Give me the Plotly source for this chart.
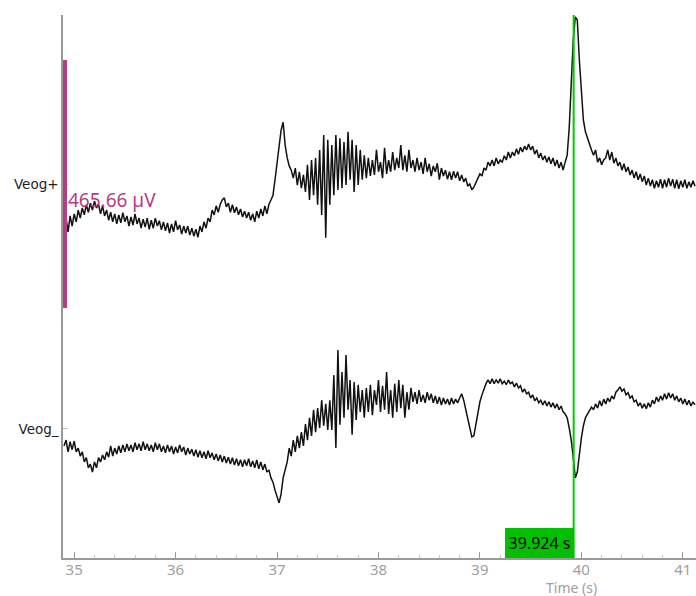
import numpy as np
import plotly.graph_objects as go

# Recording segment: two EOG channels, 50 Hz display sampling
t_start = 34.90          # s
sample_period = 0.02     # s

channel_names = ["Veog+", "Veog_"]

# Veog+ amplitude (µV, relative to channel baseline)
veog_plus = [
    -83, -64, -90, -60, -79, -56, -71, -49, -64, -45,
    -58, -39, -53, -36, -49, -32, -45, -38, -56, -41,
    -60, -49, -68, -53, -71, -56, -75, -58, -73, -54,
    -71, -60, -79, -62, -77, -56, -75, -64, -83, -66,
    -81, -64, -85, -68, -83, -64, -79, -69, -86, -71,
    -88, -73, -92, -75, -90, -69, -86, -77, -94, -79,
    -92, -79, -96, -83, -98, -85, -100, -79, -90, -71,
    -83, -64, -71, -49, -58, -41, -53, -38, -30, -26,
    -43, -36, -53, -39, -54, -43, -58, -47, -62, -51,
    -64, -53, -68, -56, -71, -51, -64, -47, -60, -41,
    -56, -38, -30, -21, 8, 41, 73, 101, 116, 73,
    49, 34, 26, 11, 30, -2, 23, -8, 17, -15,
    36, -30, 45, -21, 49, -39, 64, -58, 92, -101,
    83, -39, 73, -21, 92, -11, 86, -8, 79, -2,
    98, 8, 83, -15, 73, -2, 64, 8, 54, 11,
    49, 15, 45, 17, 64, 23, 41, 11, 68, 19,
    45, 23, 60, 26, 49, 30, 73, 26, 54, 23,
    64, 30, 45, 23, 49, 26, 41, 19, 49, 23,
    38, 15, 34, 23, 39, 8, 30, 15, 26, 9,
    23, 8, 24, 11, 23, 6, 17, 4, 11, -4,
    0, -11, -6, 4, 11, 19, 15, 30, 26, 41,
    34, 45, 34, 49, 38, 45, 41, 53, 45, 60,
    49, 60, 53, 66, 56, 69, 60, 71, 64, 75,
    64, 71, 56, 64, 49, 58, 45, 53, 41, 51,
    38, 49, 34, 45, 30, 41, 26, 41, 54, 105,
    177, 270, 314, 308, 233, 167, 120, 98, 86, 73,
    64, 54, 64, 41, 49, 36, 45, 49, 64, 45,
    60, 39, 49, 34, 41, 26, 38, 23, 32, 17,
    26, 11, 23, 8, 19, 4, 15, -2, 11, -4,
    8, -8, 6, -6, 9, -8, 8, -6, 11, -4,
    9, -8, 8, -9, 6, -6, 8, -8, 4, -6,
    6, -4,
]

# Veog_ amplitude (µV, relative to channel baseline)
veog_minus = [
    -32, -21, -43, -24, -39, -23, -43, -36, -51, -43,
    -62, -54, -73, -66, -81, -62, -73, -54, -62, -49,
    -58, -43, -53, -32, -51, -36, -47, -32, -45, -30,
    -43, -28, -41, -30, -43, -26, -39, -28, -41, -24,
    -39, -28, -41, -30, -43, -26, -39, -28, -43, -32,
    -45, -30, -43, -32, -47, -34, -45, -30, -43, -34,
    -49, -36, -47, -38, -51, -39, -53, -41, -54, -43,
    -56, -41, -54, -45, -58, -47, -60, -49, -62, -51,
    -64, -53, -66, -54, -68, -56, -69, -58, -71, -58,
    -69, -56, -71, -60, -73, -58, -75, -62, -77, -66,
    -81, -77, -92, -100, -115, -126, -139, -122, -92, -77,
    -62, -36, -51, -21, -43, -13, -36, -6, -32, 9,
    -21, 21, -13, 36, -6, 39, 2, 54, 6, 47,
    -2, 54, -2, 101, -36, 148, 8, 107, 21, 139,
    36, 92, -11, 88, 17, 83, 32, 73, 21, 77,
    32, 83, 26, 73, 45, 92, 32, 81, 36, 107,
    28, 73, 21, 85, 32, 92, 39, 83, 21, 69,
    36, 77, 51, 69, 47, 73, 51, 64, 49, 69,
    54, 66, 49, 62, 47, 60, 45, 58, 47, 56,
    45, 58, 47, 56, 49, 58, 66, 54, 36, 17,
    -2, -15, -13, 8, 32, 51, 64, 77, 85, 92,
    85, 94, 85, 92, 86, 94, 85, 90, 83, 92,
    85, 88, 79, 86, 77, 81, 69, 75, 66, 69,
    58, 64, 53, 58, 49, 54, 45, 53, 43, 51,
    41, 49, 39, 47, 36, 43, 32, 28, 21, 2,
    -21, -54, -92, -81, -45, -17, 6, 21, 28, 36,
    41, 36, 47, 39, 53, 43, 56, 47, 58, 51,
    62, 56, 69, 73, 79, 71, 75, 64, 68, 58,
    62, 51, 54, 43, 49, 39, 47, 38, 49, 41,
    54, 47, 60, 51, 62, 54, 66, 56, 68, 58,
    66, 54, 62, 51, 58, 47, 56, 45, 54, 43,
    51, 45,
]

cursor_time = 39.924      # s
scale_bar_uv = 465.66     # µV

# Display layout constants
channel_spacing_uv = 460.0
x_range = [34.89, 41.13]
y_range = [-702.4, 317.4]

n = len(veog_plus)
time = t_start + sample_period * np.arange(n)
offsets = [0.0, -channel_spacing_uv]

fig = go.Figure()
for sig, off in zip([veog_plus, veog_minus], offsets):
    fig.add_trace(go.Scatter(
        x=time, y=np.asarray(sig, dtype=float) + off,
        mode="lines", line=dict(color="#111111", width=1.5),
        hoverinfo="skip", showlegend=False,
    ))

# Amplitude scale bar centred on the first channel baseline
bar_color = "#b83c83"
fig.add_shape(type="rect", xref="paper", yref="y",
              x0=0, x1=0.0063,
              y0=offsets[0] - scale_bar_uv / 2, y1=offsets[0] + scale_bar_uv / 2,
              fillcolor=bar_color, line=dict(width=0), layer="above")
fig.add_annotation(xref="paper", yref="y", x=0, y=offsets[0] - 30,
                   xanchor="left", yanchor="middle", xshift=3,
                   text=f"{scale_bar_uv:.2f} µV", showarrow=False,
                   font=dict(family="Noto Sans", size=19, color=bar_color))

# Time cursor
cursor_color = "#00cc00"
fig.add_shape(type="line", xref="x", yref="paper",
              x0=cursor_time, x1=cursor_time, y0=0, y1=1,
              line=dict(color=cursor_color, width=2), layer="above")
fig.add_annotation(xref="x", yref="paper", x=cursor_time, y=0,
                   xanchor="right", yanchor="bottom",
                   text=f"{cursor_time:.3f} s", showarrow=False,
                   bgcolor="#00c000", borderpad=0, borderwidth=0,
                   width=69, height=30,
                   font=dict(family="Noto Sans", size=16, color="#000000"))

# Axis title placed under the cursor region
fig.add_annotation(xref="x", yref="paper", x=39.9, y=0,
                   xanchor="center", yanchor="middle", yshift=-29,
                   text="Time (s)", showarrow=False,
                   font=dict(family="Noto Sans", size=14, color="#a0a0a0"))

fig.update_layout(
    width=696, height=596,
    margin=dict(l=63, r=0, t=15, b=38),
    paper_bgcolor="white", plot_bgcolor="white",
    showlegend=False,
)
fig.update_xaxes(
    range=x_range, showgrid=False, zeroline=False,
    showline=True, linecolor="#9a9a9a", linewidth=1.5,
    ticks="inside", ticklen=6, tickcolor="#9a9a9a", tickwidth=1,
    dtick=1, tick0=35, ticklabelstandoff=-3,
    minor=dict(ticks="inside", ticklen=3, tickcolor="#c8c8c8", dtick=0.2, showgrid=False),
    tickfont=dict(family="Noto Sans", size=15, color="#a0a0a0"),
)
fig.update_yaxes(
    range=y_range, showgrid=False, zeroline=False,
    showline=True, linecolor="#9a9a9a", linewidth=1.5,
    ticks="inside", ticklen=5, tickcolor="#c0c0c0",
    tickvals=offsets, ticktext=channel_names,
    tickfont=dict(family="DejaVu Sans", size=13.5, color="#1e1e1e"),
)

fig.write_html("out.html")
